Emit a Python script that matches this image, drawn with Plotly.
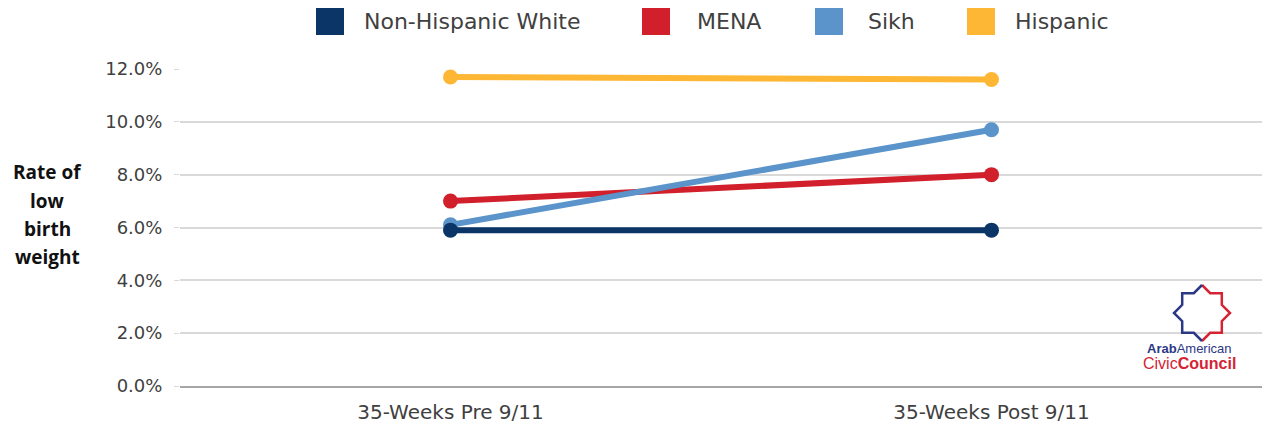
import math
import plotly.graph_objects as go

categories = ["35-Weeks Pre 9/11", "35-Weeks Post 9/11"]
series_names = ["Non-Hispanic White", "MENA", "Sikh", "Hispanic"]
nhw_values = [5.9, 5.9]
mena_values = [7.0, 8.0]
sikh_values = [6.1, 9.7]
hispanic_values = [11.7, 11.6]
y_ticks = [0, 2, 4, 6, 8, 10, 12]
y_tick_labels = ["0.0%", "2.0%", "4.0%", "6.0%", "8.0%", "10.0%", "12.0%"]
y_title_lines = ["Rate of", "low", "birth", "weight"]

colors = ["#0B3566", "#D11F2B", "#5A94CA", "#FDB734"]
values = [nhw_values, mena_values, sikh_values, hispanic_values]

W, H = 1265, 423
L, R, T, B = 180, 3, 69, 37
pw, ph = W - L - R, H - T - B

def px(x):
    return (x - L) / pw

def py(y):
    return (H - B - y) / ph

fig = go.Figure()
order = [3, 1, 2, 0]
for i in order:
    fig.add_trace(go.Scatter(
        x=categories, y=values[i], name=series_names[i],
        mode="lines+markers",
        line=dict(color=colors[i], width=6),
        marker=dict(color=colors[i], size=15),
        showlegend=False,
    ))

tick_font = "DejaVu Sans"
title_font = "Open Sans"
shapes = []
annotations = []

# legend
legend_sq_x = [316, 642, 815, 967]
legend_txt_x = [362, 695, 866, 1013]
for i, name in enumerate(series_names):
    shapes.append(dict(type="rect", xref="paper", yref="paper",
                       x0=px(legend_sq_x[i]), x1=px(legend_sq_x[i] + 28),
                       y0=py(35), y1=py(8),
                       fillcolor=colors[i], line=dict(width=0)))
    annotations.append(dict(xref="paper", yref="paper", x=px(legend_txt_x[i]), y=py(21),
                            xanchor="left", yanchor="middle", showarrow=False,
                            text=name, font=dict(family=tick_font, size=22, color="#404040")))

# y axis title, one line per annotation for the reference's spacing
title_y = [172, 201, 229, 257]
for line, yy in zip(y_title_lines, title_y):
    annotations.append(dict(xref="paper", yref="paper", x=px(47), y=py(yy),
                            xanchor="center", yanchor="middle", showarrow=False,
                            text=f"<b>{line}</b>",
                            font=dict(family=title_font, size=19, color="#111111")))

# logo: 8-pointed star
cx, cy, Ro = 1202, 313, 28
Ri = Ro * math.cos(math.pi / 4) / math.cos(math.pi / 8)
pts = []
for k in range(16):
    ang = math.pi / 2 - k * math.pi / 8
    r = Ro if k % 2 == 0 else Ri
    pts.append((cx + r * math.cos(ang), cy - r * math.sin(ang)))

def path_of(points):
    return "M " + " L ".join(f"{px(x):.5f},{py(y):.5f}" for x, y in points)

shapes.append(dict(type="path", xref="paper", yref="paper",
                   path=path_of(pts[0:9]), line=dict(color="#D42434", width=2.5)))
shapes.append(dict(type="path", xref="paper", yref="paper",
                   path=path_of(pts[8:16] + [pts[0]]), line=dict(color="#2B3886", width=2.5)))
annotations.append(dict(xref="paper", yref="paper", x=px(1189), y=py(348),
                        xanchor="center", yanchor="middle", showarrow=False,
                        text="<b>Arab</b>American",
                        font=dict(family="Liberation Sans", size=13, color="#2B3886")))
annotations.append(dict(xref="paper", yref="paper", x=px(1189), y=py(363),
                        xanchor="center", yanchor="middle", showarrow=False,
                        text="Civic<b>Council</b>",
                        font=dict(family="Liberation Sans", size=16, color="#D42434")))

fig.update_layout(
    width=W, height=H,
    margin=dict(l=L, r=R, t=T, b=B),
    paper_bgcolor="white", plot_bgcolor="white",
    showlegend=False,
    shapes=shapes, annotations=annotations,
    xaxis=dict(type="category", range=[-0.5, 1.5], showgrid=False, automargin=False,
               showline=True, linecolor="#A6A6A6", linewidth=2,
               ticks="", tickfont=dict(family=tick_font, size=20, color="#404040"),
               ticklabelstandoff=7),
    yaxis=dict(range=[0, 12], tickvals=y_ticks, ticktext=y_tick_labels, automargin=False,
               showgrid=True, gridcolor="#D9D9D9", gridwidth=1.5,
               zeroline=False, showline=False,
               ticks="outside", ticklen=5, tickcolor="#D9D9D9",
               tickfont=dict(family=tick_font, size=18, color="#404040"),
               ticklabelstandoff=8),
)

fig.write_html("out.html", config={"displayModeBar": False},
               post_script="document.body.style.margin='0';")
